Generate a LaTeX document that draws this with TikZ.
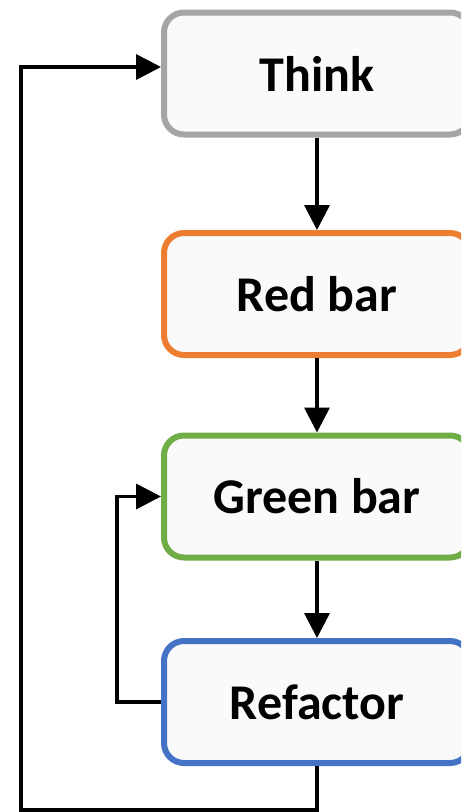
\documentclass[tikz,border=0pt]{standalone}
\usepackage{fontspec}
\setmainfont{Carlito}
\usetikzlibrary{arrows.meta}
\definecolor{cgray}{HTML}{A5A5A5}
\definecolor{corange}{HTML}{ED7D31}
\definecolor{cgreen}{HTML}{70AD47}
\definecolor{cblue}{HTML}{4472C4}
\definecolor{cfill}{HTML}{FAFAFA}
\begin{document}
\begin{tikzpicture}[x=1pt,y=-1pt,
  box/.style={draw, fill=cfill, line width=6pt, rounded corners=20pt,
    minimum width=306pt, minimum height=122pt, inner sep=0pt,
    font=\fontsize{50}{58}\selectfont\bfseries},
  conn/.style={draw=black, line width=3.6pt},
  arr/.style={conn, -{Triangle[length=25pt,width=25pt]}}]
\useasboundingbox (0,0) rectangle (461,812);
\clip (0,0) rectangle (461,812);
\node[box, draw=cgray] (think) at (317,73.5) {Think};
\node[box, draw=corange] (red) at (317,294) {Red bar};
\node[box, draw=cgreen] (green) at (317,496.5) {Green bar};
\node[box, draw=cblue] (refactor) at (317,702) {Refactor};
\coordinate (bl) at (21,810);
\coordinate (br) at (317,810);
\coordinate (tl) at (21,67);
\coordinate (il) at (117,702);
\coordinate (it) at (117,496.5);
\draw[arr] (think.south) -- (red.north);
\draw[arr] (red.south) -- (green.north);
\draw[arr] (green.south) -- (refactor.north);
\draw[arr] (refactor.south) -- (br) -- (bl) -- (tl) -- (think.west |- tl);
\draw[arr] (refactor.west) -- (il) -- (it) -- (green.west);
\end{tikzpicture}
\end{document}
